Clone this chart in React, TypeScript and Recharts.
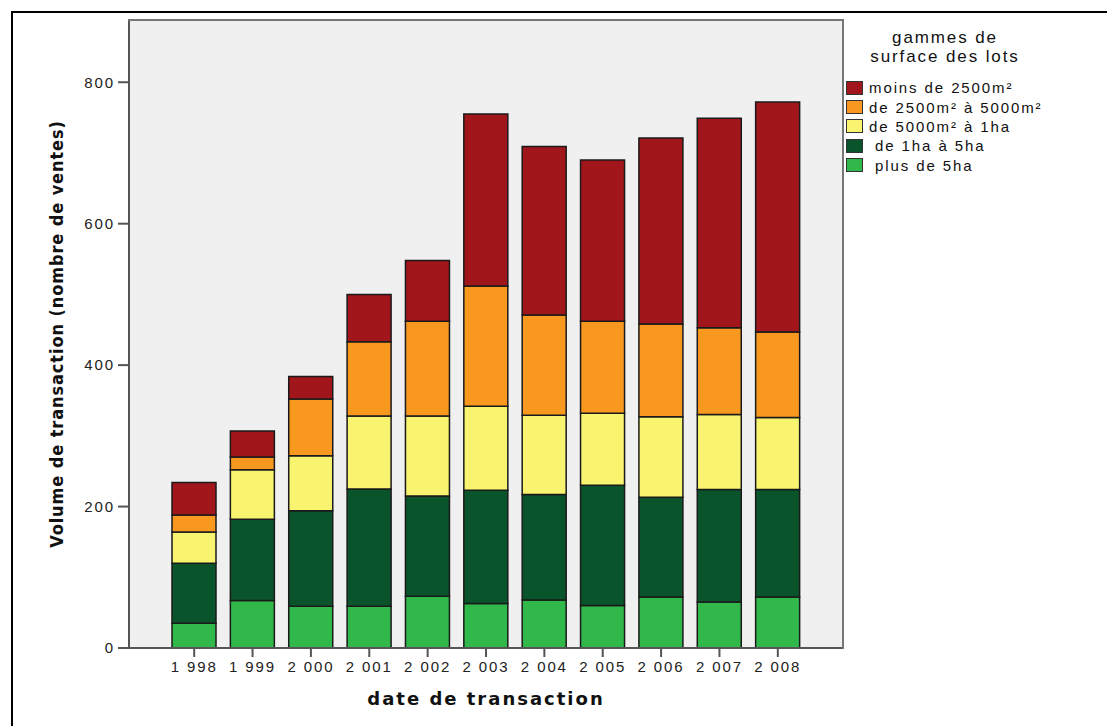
// Stacked bars: transaction volume per year, split by lot surface range
import { BarChart, Bar, XAxis, YAxis, CartesianGrid } from "recharts";

const years = ["1 998", "1 999", "2 000", "2 001", "2 002", "2 003", "2 004", "2 005", "2 006", "2 007", "2 008"];
const plus5ha = [35, 67, 59, 59, 73, 63, 68, 60, 72, 65, 72];
const de1a5ha = [85, 115, 135, 166, 142, 160, 149, 170, 141, 159, 152];
const de5000a1ha = [44, 70, 78, 103, 113, 119, 112, 102, 114, 106, 102];
const de2500a5000 = [24, 18, 80, 105, 134, 170, 142, 130, 131, 123, 121];
const moins2500 = [46, 37, 32, 67, 86, 243, 238, 228, 263, 296, 325];
const yTicks = [0, 200, 400, 600, 800];

// bottom to top in the stack
const series = [
  { key: "plus5ha", name: " plus de 5ha", color: "#30b84a", values: plus5ha },
  { key: "de1a5ha", name: " de 1ha à 5ha", color: "#0a542c", values: de1a5ha },
  { key: "de5000a1ha", name: "de 5000m² à 1ha", color: "#f9f46f", values: de5000a1ha },
  { key: "de2500a5000", name: "de 2500m² à 5000m²", color: "#f8981f", values: de2500a5000 },
  { key: "moins2500", name: "moins de 2500m²", color: "#a1161a", values: moins2500 },
];

const data = years.map((year, i) => {
  const row: Record<string, string | number> = { year };
  series.forEach((s) => (row[s.key] = s.values[i]));
  return row;
});

const tickFont = { fontFamily: "'Liberation Sans', Arial, sans-serif", fontSize: 15, letterSpacing: 1.9, fill: "#222" };

function LegendBox() {
  return (
    <div
      style={{
        position: "absolute",
        left: 846,
        top: 28,
        width: 200,
        fontFamily: "'Liberation Sans', Arial, sans-serif",
        color: "#111",
      }}
    >
      <div style={{ textAlign: "center", fontSize: 17, letterSpacing: 1.9, lineHeight: "19px", width: 198 }}>
        gammes de
        <br />
        surface des lots
      </div>
      <div style={{ marginTop: 12 }}>
        {[...series].reverse().map((s) => (
          <div key={s.key} style={{ display: "flex", alignItems: "center", height: 19.4 }}>
            <span
              style={{
                width: 15,
                height: 12,
                background: s.color,
                border: "1.5px solid #333",
                display: "inline-block",
              }}
            />
            <span style={{ marginLeft: 6, fontSize: 15, letterSpacing: 1.9, whiteSpace: "pre" }}>{s.name}</span>
          </div>
        ))}
      </div>
    </div>
  );
}

export default function App() {
  return (
    <div style={{ position: "relative", width: 1107, height: 726, background: "#fff", overflow: "hidden" }}>
      <style>{"body{margin:0}"}</style>
      <div
        style={{
          position: "absolute",
          left: 11,
          top: 11,
          width: 1107,
          height: 726,
          borderTop: "2px solid #000",
          borderLeft: "2px solid #000",
        }}
      />
      <div style={{ position: "absolute", left: 0, top: 0 }}>
        <BarChart
          width={1107}
          height={726}
          data={data}
          margin={{ top: 20, right: 264, left: 69, bottom: 48 }}
          barCategoryGap="12%"
        >
          <CartesianGrid horizontal={false} vertical={false} fill="#f0f0f0" />
          <XAxis
            dataKey="year"
            padding={{ left: 36, right: 36 }}
            height={30}
            tickSize={9}
            tickMargin={4}
            interval={0}
            axisLine={{ stroke: "#555", strokeWidth: 2 }}
            tickLine={{ stroke: "#555", strokeWidth: 2 }}
            tick={tickFont}
            label={{
              value: "date de transaction",
              position: "bottom",
              offset: 14,
              style: { fontFamily: "'DejaVu Sans', Verdana, sans-serif", fontWeight: "bold", fontSize: 18, letterSpacing: 2, fill: "#111" },
            }}
          />
          <YAxis
            domain={[0, 888]}
            ticks={yTicks}
            width={60}
            tickSize={11}
            tickMargin={3}
            axisLine={{ stroke: "#555", strokeWidth: 2 }}
            tickLine={{ stroke: "#555", strokeWidth: 2 }}
            tick={tickFont}
            label={{
              value: "Volume de transaction (nombre de ventes)",
              angle: -90,
              position: "center",
              dx: -42,
              style: {
                fontFamily: "'DejaVu Sans Condensed', 'DejaVu Sans', sans-serif",
                fontStretch: "condensed",
                fontWeight: "bold",
                fontSize: 18,
                letterSpacing: 0.9,
                fill: "#111",
              },
            }}
          />
          {series.map((s) => (
            <Bar
              key={s.key}
              dataKey={s.key}
              name={s.name}
              stackId="a"
              fill={s.color}
              stroke="#1a1a1a"
              strokeWidth={1.5}
              isAnimationActive={false}
            />
          ))}
        </BarChart>
      </div>
      {/* plot frame (top and right edges) */}
      <div
        style={{
          position: "absolute",
          left: 128,
          top: 19,
          width: 714,
          height: 628,
          borderTop: "2px solid #777",
          borderRight: "2px solid #777",
          pointerEvents: "none",
        }}
      />
      <LegendBox />
    </div>
  );
}
